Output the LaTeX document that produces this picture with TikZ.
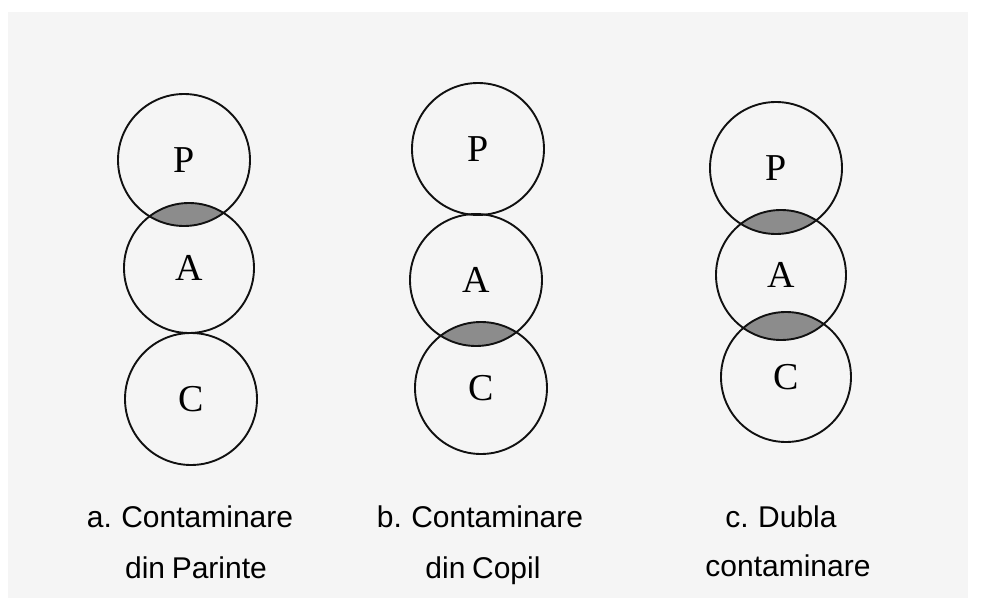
\documentclass[tikz,border=0pt]{standalone}
\usepackage{fontspec}
\setmainfont{Liberation Serif}
\newfontfamily\capfont[WordSpace=0.8]{Liberation Sans}
\definecolor{paper}{HTML}{F5F5F5}
\definecolor{lensgray}{HTML}{8C8C8C}
\definecolor{ink}{HTML}{111111}
\begin{document}
\begin{tikzpicture}[x=1pt,y=-1pt,
  ring/.style={circle, draw=ink, line width=1.9pt, inner sep=0pt,
    font=\fontsize{38}{38}\selectfont},
  caption/.style={anchor=base, inner sep=0pt,
    font=\capfont\fontsize{30}{36}\selectfont}]
\useasboundingbox (0,0) rectangle (1005,605);
\fill[white] (0,0) rectangle (1005,605);
\fill[paper] (8,12) rectangle (968,598);

% circle centres: P (parent), A, C (child) for the three cases
\coordinate (aPc) at (184,160);
\coordinate (aAc) at (189,268);
\coordinate (aCc) at (191,399);
\coordinate (bPc) at (478,149);
\coordinate (bAc) at (476,280);
\coordinate (bCc) at (481,388);
\coordinate (cPc) at (776,168);
\coordinate (cAc) at (781,275);
\coordinate (cCc) at (786,377);

% shaded overlaps
\begin{scope}
  \clip (aPc) circle[radius=66];
  \fill[lensgray] (aAc) circle[radius=65];
\end{scope}
\begin{scope}
  \clip (bAc) circle[radius=66];
  \fill[lensgray] (bCc) circle[radius=66];
\end{scope}
\begin{scope}
  \clip (cPc) circle[radius=66];
  \fill[lensgray] (cAc) circle[radius=65];
\end{scope}
\begin{scope}
  \clip (cAc) circle[radius=65];
  \fill[lensgray] (cCc) circle[radius=65];
\end{scope}

% circles with their letters
\node[ring, minimum size=132pt] (aP) at (aPc) {P};
\node[ring, minimum size=130pt] (aA) at (aAc) {A};
\node[ring, minimum size=132pt] (aC) at (aCc) {C};
\node[ring, minimum size=132pt] (bP) at (bPc) {P};
\node[ring, minimum size=132pt] (bA) at (bAc) {A};
\node[ring, minimum size=132pt] (bC) at (bCc) {C};
\node[ring, minimum size=132pt] (cP) at (cPc) {P};
\node[ring, minimum size=130pt] (cA) at (cAc) {A};
\node[ring, minimum size=130pt] (cC) at (cCc) {C};

% captions
\node[caption] (capa1) at (190,527) {a. Contaminare};
\node[caption] (capa2) at (196,578) {din Parinte};
\node[caption] (capb1) at (480,527) {b. Contaminare};
\node[caption] (capb2) at (483,578) {din Copil};
\node[caption] (capc1) at (781,527) {c. Dubla};
\node[caption] (capc2) at (788,576) {contaminare};
\end{tikzpicture}
\end{document}
